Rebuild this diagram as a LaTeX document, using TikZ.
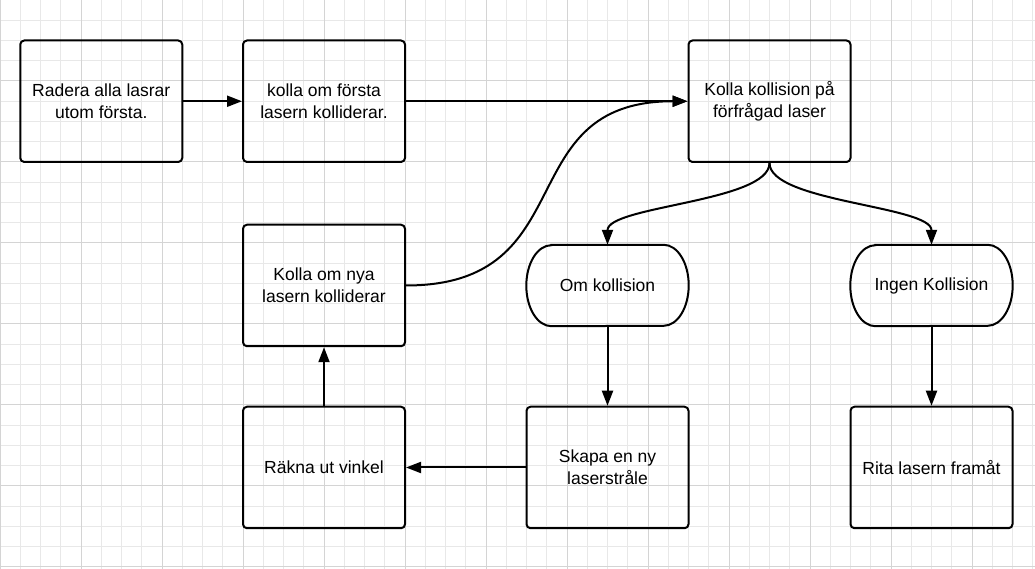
\documentclass[tikz,border=0pt]{standalone}
\usepackage{fontspec}
\setmainfont{Liberation Sans}
\usetikzlibrary{arrows.meta}
\begin{document}
\begin{tikzpicture}[x=1pt,y=1pt,
  box/.style={draw,line width=2pt,rounded corners=4pt,minimum width=162pt,minimum height=121.5pt,
    align=center,font=\fontsize{17.5}{22}\selectfont},
  term/.style={minimum width=162pt,minimum height=81pt,align=center,font=\fontsize{17.5}{22}\selectfont},
  pil/.style={line width=2pt,-{Triangle[length=15pt,width=11pt]}}]
\useasboundingbox (0,0) rectangle (1035,569);
\fill[white] (0,0) rectangle (1035,569);
\begin{scope}[shift={(0,2)}]
\draw[line width=1pt,black!9,step=20.25pt] (0,-2) grid (1035,567);
\draw[line width=1pt,black!17,step=81pt] (0,-2) grid (1035,567);
\end{scope}
\node[box] (radera) at (101.25,467.75) {Radera alla lasrar\\utom första.};
\node[box] (forsta) at (324,467.75) {kolla om första\\lasern kolliderar.};
\node[box] (kk) at (769.5,467.75) {Kolla kollision på\\förfrågad laser};
\node[box] (nya) at (324,283.5) {Kolla om nya\\lasern kolliderar};
\node[term] (om) at (607.5,283.5) {Om kollision};
\node[term] (ingen) at (931.5,283.5) {Ingen Kollision};
\node[box] (rakna) at (324,101.5) {Räkna ut vinkel};
\node[box] (skapa) at (607.5,101.5) {Skapa en ny\\laserstråle};
\node[box] (rita) at (931.5,101.5) {Rita lasern framåt};
\foreach \n in {om,ingen}
  \draw[line width=2pt] ([xshift=25pt]\n.north west) -- ([xshift=-25pt]\n.north east)
    arc[start angle=90,end angle=-90,x radius=25pt,y radius=40.5pt]
    -- ([xshift=25pt]\n.south west)
    arc[start angle=270,end angle=90,x radius=25pt,y radius=40.5pt] -- cycle;
\draw[pil] (radera) -- (forsta);
\draw[pil] (forsta) -- (kk);
\draw[pil] (nya.east) to[out=0,in=180,looseness=1.37] (kk.west);
\draw[pil] (kk.south) to[out=-90,in=90,looseness=0.55] (om.north);
\draw[pil] (kk.south) to[out=-90,in=90,looseness=0.55] (ingen.north);
\draw[pil] (om) -- (skapa);
\draw[pil] (ingen) -- (rita);
\draw[pil] (skapa) -- (rakna);
\draw[pil] (rakna) -- (nya);
\end{tikzpicture}
\end{document}
